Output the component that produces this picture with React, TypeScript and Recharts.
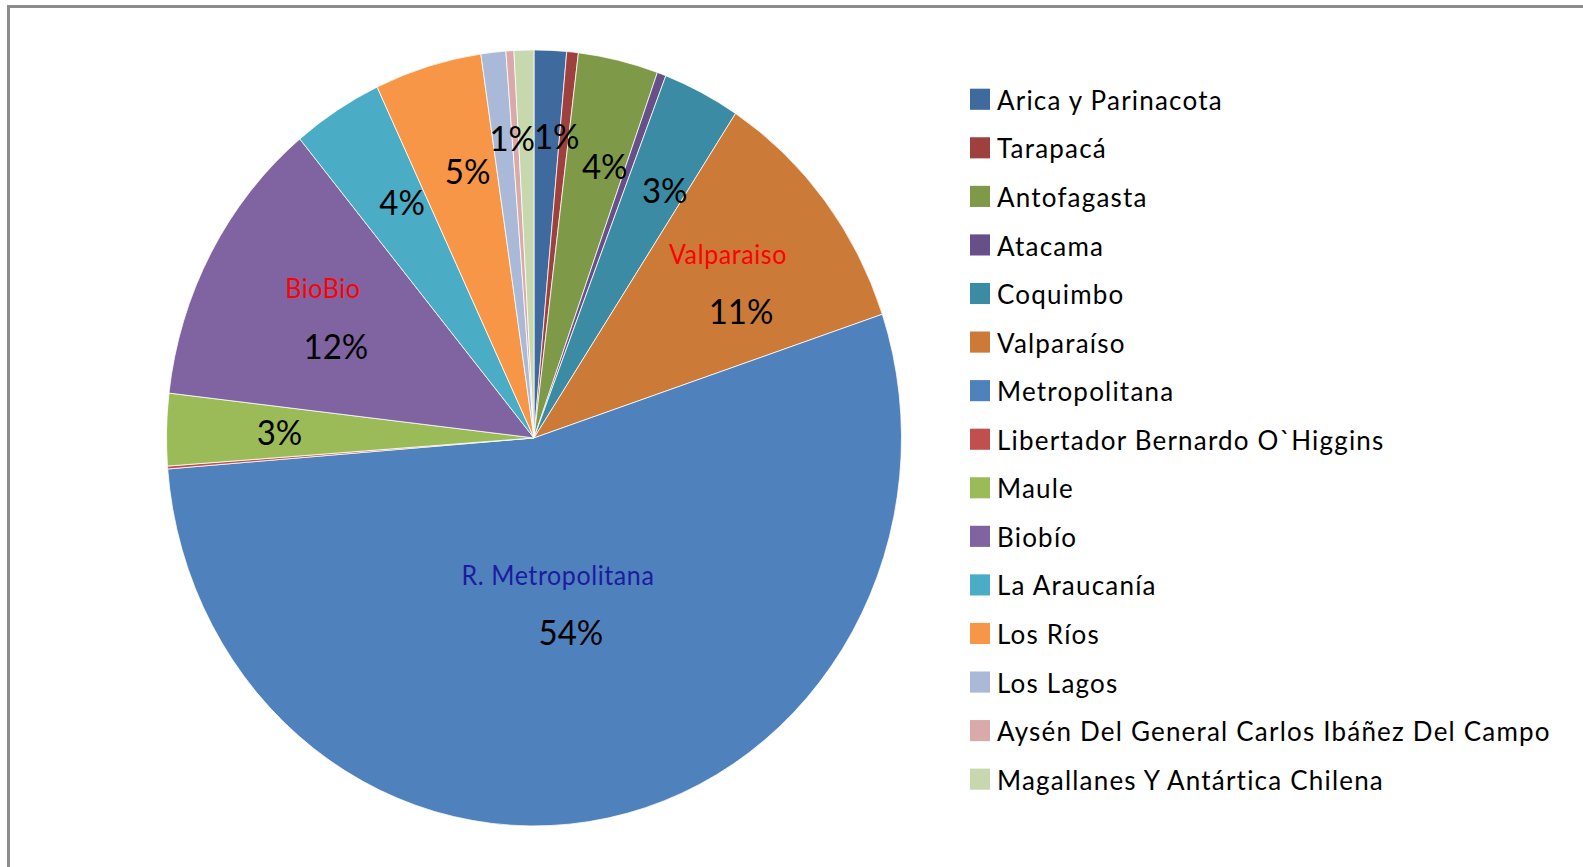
import React from "react";
import { PieChart, Pie, Cell } from "recharts";

const regions = [
  "Arica y Parinacota",
  "Tarapacá",
  "Antofagasta",
  "Atacama",
  "Coquimbo",
  "Valparaíso",
  "Metropolitana",
  "Libertador Bernardo O`Higgins",
  "Maule",
  "Biobío",
  "La Araucanía",
  "Los Ríos",
  "Los Lagos",
  "Aysén Del General Carlos Ibáñez Del Campo",
  "Magallanes Y Antártica Chilena",
];

const shares = [1.42, 0.51, 3.52, 0.39, 3.4, 10.6, 53.9, 0.12, 3.0, 12.16, 3.98, 4.71, 1.09, 0.35, 0.87];

const calloutNames = ["", "", "", "", "", "Valparaiso", "R. Metropolitana", "", "", "BioBio", "", "", "", "", ""];

const colors = [
  "#3E6A9E",
  "#9E403D",
  "#7E9A48",
  "#674F87",
  "#3A8BA3",
  "#CB7A38",
  "#4F81BD",
  "#C0504D",
  "#9BBB59",
  "#8064A2",
  "#4BACC6",
  "#F79646",
  "#AAB9D7",
  "#D9AAA9",
  "#C7D7AE",
];

const data = regions.map((name, i) => ({ name, value: shares[i], callout: calloutNames[i] }));

const K = 1.0558;
const W = 1583;
const H = 867 / K;
const FONT = "Lato, 'Open Sans', sans-serif";
const RAD = Math.PI / 180;

const renderLabel = (props: any) => {
  const { cx, cy, midAngle, outerRadius, percent, index, value } = props;
  if (value < 1) return null;
  const frac = percent > 0.4 ? 0.433 : percent > 0.08 ? 0.66 : percent > 0.02 ? 0.72 : 0.78;
  const shift = percent > 0.4 ? 0 : 10;
  const r = outerRadius * frac;
  const x = cx + r * Math.cos(-midAngle * RAD) + shift;
  const y = cy + r * Math.sin(-midAngle * RAD);
  const pct = Math.round(percent * 100) + "%";
  const name = data[index].callout;
  if (!name) {
    return (
      <text key={"lbl" + index} x={x} y={y} textAnchor="middle" dominantBaseline="central" fontFamily={FONT} fontSize={33} fill="#000">
        {pct}
      </text>
    );
  }
  return (
    <g key={"lbl" + index}>
      <text
        x={x - 8}
        y={y - 26}
        textAnchor="middle"
        dominantBaseline="central"
        fontFamily={FONT}
        fontSize={25}
        letterSpacing={0.6}
        fill={index === 6 ? "#1C1CA0" : "#FF0000"}
      >
        {name}
      </text>
      <text x={x + 5} y={y + 28} textAnchor="middle" dominantBaseline="central" fontFamily={FONT} fontSize={33} fill="#000">
        {pct}
      </text>
    </g>
  );
};

export default function App() {
  return (
    <div style={{ position: "absolute", left: 0, top: 0, width: W, height: 867, background: "#fff", overflow: "hidden" }}>
      <div
        style={{
          position: "absolute",
          left: 7,
          top: 5,
          right: -10,
          bottom: -10,
          borderLeft: "3px solid #8C8C8C",
          borderTop: "3px solid #8C8C8C",
        }}
      />
      <div style={{ position: "absolute", left: 0, top: 0, width: W, height: H, transform: `scaleY(${K})`, transformOrigin: "top left" }}>
        <PieChart width={W} height={H} margin={{ top: 0, right: 0, bottom: 0, left: 0 }}>
          <Pie
            data={data}
            dataKey="value"
            nameKey="name"
            cx={534}
            cy={414.8}
            outerRadius={367.5}
            startAngle={90}
            endAngle={-270}
            stroke="#FFFFFF"
            strokeWidth={0.75}
            label={renderLabel}
            labelLine={false}
            isAnimationActive={false}
          >
            {data.map((d, i) => (
              <Cell key={d.name} fill={colors[i]} />
            ))}
          </Pie>
        </PieChart>
        <div style={{ position: "absolute", left: 970, top: 70.8, fontFamily: FONT }}>
          {regions.map((name, i) => (
            <div key={name} style={{ display: "flex", alignItems: "center", height: 46 }}>
              <div style={{ width: 20, height: 20, background: colors[i], marginRight: 7 }} />
              <span style={{ fontSize: 26, letterSpacing: 1.2, color: "#000", whiteSpace: "nowrap" }}>{name}</span>
            </div>
          ))}
        </div>
      </div>
    </div>
  );
}
